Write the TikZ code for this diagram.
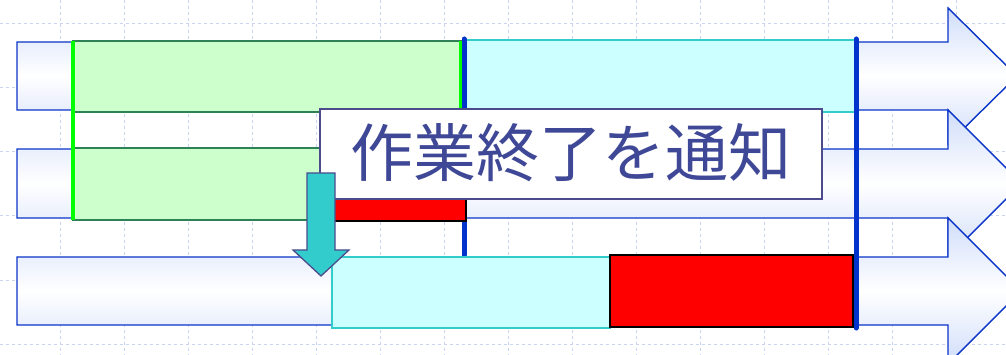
\documentclass[tikz,border=0pt]{standalone}
\usepackage{fontspec}
\newfontfamily\cjk{Noto Sans CJK JP}
\definecolor{gridc}{RGB}{200,212,242}
\definecolor{arrowline}{RGB}{10,52,200}
\definecolor{arrowfill}{RGB}{208,221,250}
\definecolor{gfill}{RGB}{204,255,204}
\definecolor{gborder}{RGB}{46,130,85}
\definecolor{brightgreen}{RGB}{0,255,0}
\definecolor{cfill}{RGB}{204,255,255}
\definecolor{cborder}{RGB}{51,204,204}
\definecolor{slate}{RGB}{76,76,140}
\definecolor{txt}{RGB}{63,72,150}
\definecolor{tealarrow}{RGB}{51,204,204}
\definecolor{vblue}{RGB}{0,51,204}
\tikzset{
  gridline/.style={draw=gridc, line width=1pt, dash pattern=on 3pt off 3pt},
  bigarrow/.style={draw=arrowline, line width=1.4pt, top color=arrowfill, bottom color=arrowfill, middle color=white},
  box/.style={rectangle, inner sep=0pt, outer sep=0pt, anchor=north west},
  greenbox/.style={box, fill=gfill, draw=gborder, line width=1.3pt},
  cyanbox/.style={box, fill=cfill, draw=cborder, line width=1.3pt},
  redbox/.style={box, fill=red, draw=black, line width=1.4pt},
  notebox/.style={box, fill=white, draw=slate, line width=1.4pt},
  greenmark/.style={draw=brightgreen, line width=4.5pt},
  greenmarkthin/.style={draw=brightgreen, line width=3.5pt},
  bluemark/.style={draw=vblue, line width=5pt, line cap=round},
  downarrow/.style={draw=slate, line width=1.3pt, fill=tealarrow, line join=miter},
}
\begin{document}
\begin{tikzpicture}[x=1pt,y=-1pt]
\useasboundingbox (0,0) rectangle (1006,355);
\clip (0,0) rectangle (1006,355);
% grid
\foreach \gx in {60,124,...,956} { \draw[gridline] (\gx,0) -- (\gx,355); }
\foreach \gy in {24,88,...,344} { \draw[gridline] (0,\gy) -- (1006,\gy); }
% big arrows
\path[bigarrow] (17,42) -- (948,42) -- (948,8) -- (1017,76) -- (948,144) -- (948,110) -- (17,110) -- cycle;
\path[bigarrow] (17,149) -- (948,149) -- (948,110) -- (1021.5,183.5) -- (948,257) -- (948,218) -- (17,218) -- cycle;
\path[bigarrow] (17,257) -- (948,257) -- (948,218) -- (1021,291) -- (948,364) -- (948,325) -- (17,325) -- cycle;
% row 1 and 2 boxes
\node[greenbox, minimum width=389pt, minimum height=71pt] (g1) at (73,41) {};
\node[greenbox, minimum width=260pt, minimum height=72pt] (g2) at (73,148) {};
\node[cyanbox, minimum width=389pt, minimum height=72pt] (c1) at (466,40) {};
% markers
\draw[greenmark] (g1.north west) -- (g2.south west);
\draw[greenmarkthin] ([xshift=-1.5pt]g1.north east) -- ([xshift=-1.5pt]g1.south east);
\coordinate (b1top) at (464,39);
\coordinate (b1bot) at (464,255);
\draw[bluemark] (b1top) -- (b1bot);
\node[redbox, minimum width=144pt, minimum height=61pt] (r1) at (322,160) {};
% row 3 boxes
\node[cyanbox, minimum width=278pt, minimum height=71pt] (c3) at (332,257) {};
\node[redbox, minimum width=243pt, minimum height=72pt] (r3) at (610,255) {};
\coordinate (b2top) at (856,39);
\coordinate (b2bot) at (856,328);
\draw[bluemark] (b2top) -- (b2bot);
% notice box
\node[notebox, minimum width=502pt, minimum height=90pt] (note) at (320,109) {};
\node[text=txt, font=\cjk\fontsize{63}{63}\selectfont, inner sep=0pt] (notetext) at ([yshift=1pt]note.center) {作業終了を通知};
% down arrow
\path[downarrow] (307,173) -- (335,173) -- (335,250) -- (349,250) -- (321,276) -- (293,250) -- (307,250) -- cycle;
\end{tikzpicture}
\end{document}
